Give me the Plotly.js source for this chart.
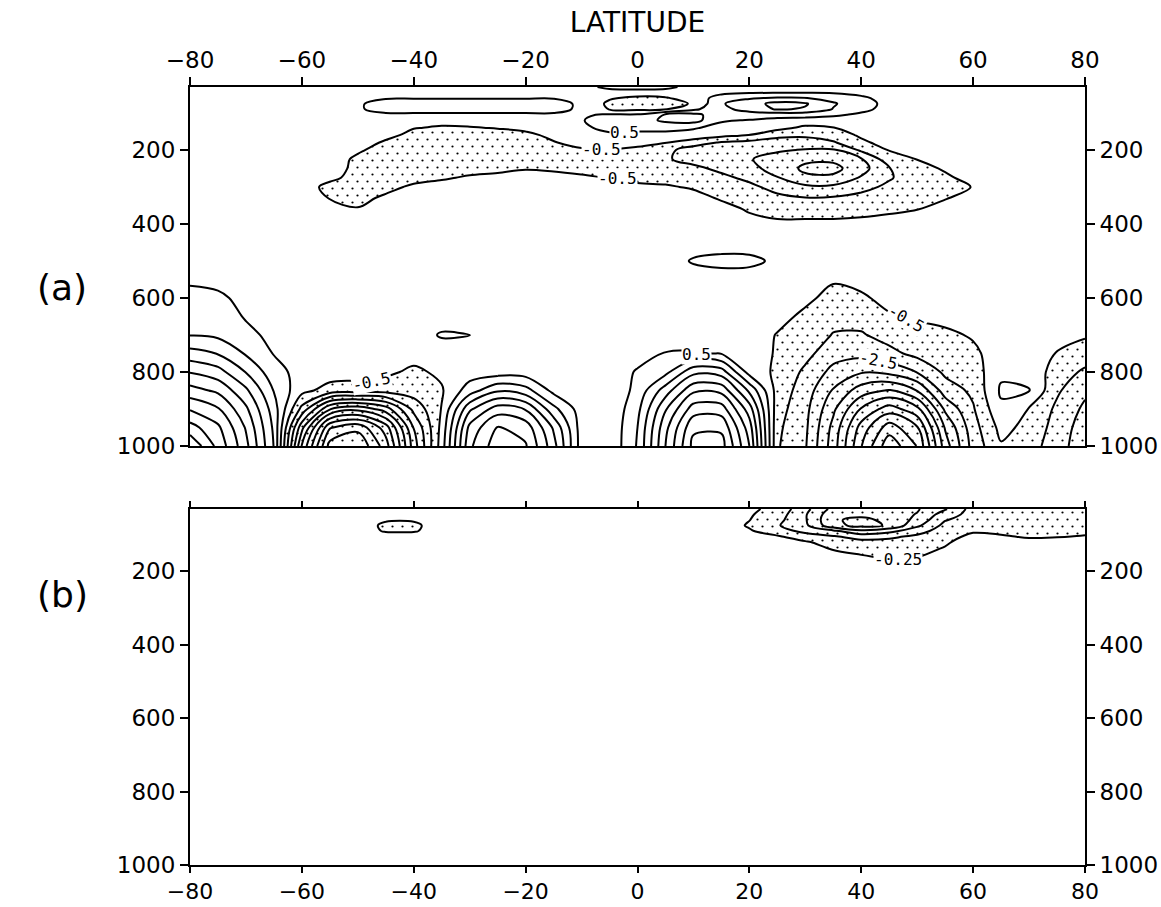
<!DOCTYPE html>
<html>
<head>
<meta charset="utf-8">
<script src="https://cdn.plot.ly/plotly-3.0.1.min.js"></script>
<style>html,body{margin:0;padding:0;background:#fff}#chart{width:1161px;height:907px}</style>
</head>
<body>
<div id="chart"></div>
<script>
// Latitude columns (deg) shared by both panels
const latitude = [-80,-75,-70,-65,-60,-55,-50,-45,-40,-35,-30,-25,-20,-15,-10,-5,0,5,10,15,20,25,30,35,40,45,50,55,60,65,70,75,80];

// Panel (a): pressure levels (mb) and field values (one row per level)
const pressureA = [30,45,60,75,90,105,120,140,160,180,200,225,250,275,300,330,360,400,450,500,550,600,650,700,750,800,850,900,950,1000];
const fieldA = [
[0,0,0,0,0,0,0,0,0,0,0,0,0,0,0.1,0.8,0.9,0.8,0.1,0,0,0,0,0,0,0,0,0,0,0,0,0,0],
[0,0,0,0,0,0,0.1,0.1,0.1,0.1,0.1,0.1,0.1,0.1,0,0,0,0,0,0.3,0.4,0.45,0.45,0.4,0.2,0,0,0,0,0,0,0,0],
[0,0,0,0,0,0,0.2,0.45,0.45,0.45,0.45,0.45,0.45,0.45,0.1,-0.4,-0.7,-0.6,0,0.9,1.4,1.6,1.55,1.2,0.7,0.1,0,0,0,0,0,0,0],
[0,0,0,0,0,0,0.4,0.8,0.9,0.9,0.95,0.9,0.9,0.9,0.3,-0.7,-1.0,-0.9,-0.4,1.4,2.1,2.8,2.6,1.6,0.9,0.2,0,0,0,0,0,0,0],
[0,0,0,0,0,0,0.4,0.8,0.85,0.85,0.85,0.85,0.85,0.85,0.3,-0.55,-0.7,-0.6,0.3,1.2,1.9,2.6,2.4,1.45,0.8,0.1,0,0,0,0,0,0,0],
[0,0,0,0,0,0,0.1,0.35,0.35,0.35,0.35,0.35,0.35,0.35,0.4,0.6,0.6,1.6,1.8,0.9,1.0,0.9,0.9,0.7,0.3,0,0,0,0,0,0,0,0],
[0,0,0,0,0,0,0,0,-0.05,-0.2,-0.2,-0.1,0,0.1,0.45,0.9,1.0,1.7,1.9,0.6,0.45,0.2,0.1,0,0,0,0,0,0,0,0,0,0],
[0,0,0,0,0,0,0,0,-0.45,-0.6,-0.55,-0.45,-0.3,-0.1,0.3,0.8,0.8,0.8,0.6,0.2,0.1,-0.2,-0.7,-0.52,-0.1,0,0,0,0,0,0,0,0],
[0,0,0,0,0,0,0,-0.2,-0.8,-0.9,-0.9,-0.85,-0.7,-0.3,0.1,0.3,0.2,0.2,0.1,-0.2,-0.52,-1.2,-1.3,-1.0,-0.35,0,0,0,0,0,0,0,0],
[0,0,0,0,0,0,0,-0.65,-0.95,-1.0,-1.0,-1.0,-0.9,-0.55,-0.2,0,-0.3,-0.45,-1.0,-1.6,-1.8,-2.0,-2.0,-1.6,-0.7,-0.1,0,0,0,0,0,0,0],
[0,0,0,0,0,0,-0.35,-0.9,-1.0,-1.0,-1.0,-1.0,-0.95,-0.8,-0.6,-0.55,-0.65,-1.2,-2.0,-2.2,-2.35,-2.4,-2.55,-2.6,-1.3,-0.45,-0.1,0,0,0,0,0,0],
[0,0,0,0,0,0,-0.7,-0.95,-1.0,-1.0,-0.95,-0.9,-0.85,-0.8,-0.8,-0.8,-0.85,-1.4,-1.8,-2.3,-2.45,-2.8,-3.3,-3.3,-2.6,-0.9,-0.48,-0.1,0,0,0,0,0],
[0,0,0,0,0,0,-0.8,-0.95,-0.95,-0.9,-0.8,-0.7,-0.55,-0.6,-0.7,-0.75,-0.85,-1.2,-1.3,-1.7,-2.2,-2.9,-3.7,-3.8,-2.9,-1.55,-0.8,-0.4,0,0,0,0,0],
[0,0,0,0,0,-0.3,-0.8,-0.9,-0.8,-0.6,-0.4,-0.3,-0.2,-0.3,-0.4,-0.52,-0.7,-0.8,-0.9,-1.3,-1.7,-2.45,-3.3,-3.3,-2.4,-1.6,-0.95,-0.65,-0.2,0,0,0,0],
[0,0,0,0,-0.1,-0.75,-0.8,-0.75,-0.35,-0.2,-0.1,0,0,0,-0.1,-0.1,-0.35,-0.4,-0.6,-1.0,-1.3,-1.8,-2.3,-2.3,-1.8,-1.3,-0.9,-0.7,-0.48,0,0,0,0],
[0,0,0,0,0,-0.55,-0.75,-0.35,0,0,0,0,0,0,0,0,0,0,-0.2,-0.6,-0.9,-1.3,-1.45,-1.4,-1.2,-0.95,-0.75,-0.55,-0.2,0,0,0,0],
[0,0,0,0,0,0,-0.45,0,0,0,0,0,0,0,0,0,0,0,0,-0.2,-0.6,-0.9,-0.9,-0.9,-0.75,-0.65,-0.52,-0.2,0,0,0,0,0],
[0,0,0,0,0,0,0,0,0,0,0,0,0,0,0,0,0,0,0,0,-0.2,-0.3,-0.3,-0.3,-0.3,-0.2,-0.1,0,0,0,0,0,0],
[0,0,0,0,0,0,0,0,0,0,0,0,0,0,0,0,0,0,0,0,0,0,0,0,0,0,0,0,0,0,0,0,0],
[0,0,0,0,0,0,0,0,0,0,0,0,0,0,0,0,0,0,0.6,0.8,0.75,0.3,0,0,0,0,0,0,0,0,0,0,0],
[0.3,0.2,0,0,0,0,0,0,0,0,0,0,0,0,0,0,0,0,0,0,0,0,0,-0.4,-0.2,0,0,0,0,0,0,0,0],
[0.9,0.7,0.2,0,0,0,0,0,0,0,0,0,0,0,0,0,0,0,0,0,0,0,-0.3,-0.8,-0.65,-0.2,-0.1,0,0,0,0,0,0],
[1.2,1.1,0.4,0,0,0,0,0,0,0,0,0,0,0,0,0,0,0,0,0,0,-0.2,-0.7,-1.2,-1.1,-0.6,-0.4,-0.2,0,0,0,0,0],
[1.45,1.3,0.8,0.2,0,0,0,0,0,0.6,0.52,0,0,0,0,0,0,0,0,0,0,-0.55,-0.95,-1.55,-1.6,-1.1,-0.8,-0.7,-0.4,0,0,-0.1,-0.4],
[2.9,2.45,1.4,0.45,0,0,0,0,-0.1,0,0,0,0,0,0,0,0.1,0.55,0.6,0.45,0,-0.6,-1.2,-2.1,-2.2,-1.8,-1.2,-1.0,-0.7,0,0,-0.55,-0.9],
[4.45,3.9,2.45,0.9,0.1,0,-0.1,-0.3,-0.7,-0.3,0,0,0,0,0,-0.1,0.6,1.2,3.2,3.0,0.1,-0.7,-1.7,-2.8,-3.4,-3.2,-2.45,-1.3,-1.0,0.3,0.1,-0.9,-1.7],
[5.9,5.3,3.7,1.45,-0.2,-0.9,-1.0,-1.1,-1.0,-0.6,1.0,2.37,1.9,0.2,0,-0.3,0.8,3.0,5.3,5.2,2.3,-0.9,-2.0,-3.6,-5.0,-5.6,-4.45,-2.0,-1.3,0.65,0.55,-1.35,-2.3],
[7.4,6.6,4.7,2.0,-1.8,-5.45,-6.2,-5.0,-2.2,-0.45,3.3,5.0,4.45,1.8,0,-0.3,1.2,4.4,7.0,7.0,4.0,-1.1,-2.2,-4.3,-6.6,-8.0,-6.8,-3.3,-1.6,0.3,-0.55,-1.7,-2.7],
[8.9,7.7,5.4,2.3,-4.2,-9.4,-10.2,-8.0,-3.45,-0.2,4.8,6.57,6.1,3.35,0,-0.3,1.5,5.2,8.3,8.3,5.0,-1.3,-2.3,-4.8,-7.9,-10.0,-8.6,-4.4,-1.9,-0.2,-0.8,-1.9,-3.0],
[10.4,8.2,5.8,2.45,-5.6,-10.9,-11.4,-9.0,-4.0,0,5.3,7.1,6.6,3.9,0,-0.3,1.6,5.5,8.8,8.9,5.5,-1.4,-2.4,-5.0,-8.45,-11.2,-9.45,-5.0,-2.1,-0.6,-1.1,-2.0,-3.2]
];

// Panel (b): pressure levels (mb) and field values
const pressureB = [30,45,60,75,90,105,120,140,160,180,200,300,500,700,1000];
const fieldB = [
[0,0,0,0,0,0,0,0,0,0,0,0,0,0,0,0,0,0,0,0,-0.15,-0.4,-1.1,-1.9,-2.0,-1.9,-1.8,-1.3,-0.55,-0.5,-0.45,-0.45,-0.45],
[0,0,0,0,0,0,0,0,0,0,0,0,0,0,0,0,0,0,0,0,-0.2,-0.5,-1.2,-2.1,-2.15,-2.0,-1.72,-1.0,-0.55,-0.5,-0.45,-0.45,-0.45],
[0,0,0,0,0,0,0,-0.2,-0.2,0,0,0,0,0,0,0,0,0,0,0,-0.24,-0.6,-1.2,-2.2,-2.35,-2.15,-1.6,-0.78,-0.5,-0.45,-0.45,-0.45,-0.45],
[0,0,0,0,0,0,0,-0.35,-0.35,0,0,0,0,0,0,0,0,0,0,0,-0.3,-0.7,-1.15,-2.1,-2.4,-2.2,-1.35,-0.6,-0.45,-0.45,-0.45,-0.45,-0.45],
[0,0,0,0,0,0,0,-0.3,-0.3,0,0,0,0,0,0,0,0,0,0,0,-0.2,-0.5,-0.9,-1.15,-1.65,-1.4,-0.95,-0.5,-0.3,-0.35,-0.4,-0.4,-0.35],
[0,0,0,0,0,0,0,0,0,0,0,0,0,0,0,0,0,0,0,0,-0.05,-0.2,-0.5,-0.7,-0.95,-0.85,-0.65,-0.4,-0.15,-0.2,-0.3,-0.28,-0.22],
[0,0,0,0,0,0,0,0,0,0,0,0,0,0,0,0,0,0,0,0,0,0,-0.2,-0.45,-0.6,-0.6,-0.5,-0.32,0,0,-0.1,-0.05,0],
[0,0,0,0,0,0,0,0,0,0,0,0,0,0,0,0,0,0,0,0,0,0,0,-0.27,-0.4,-0.45,-0.4,-0.2,0,0,0,0,0],
[0,0,0,0,0,0,0,0,0,0,0,0,0,0,0,0,0,0,0,0,0,0,0,-0.05,-0.2,-0.32,-0.28,0,0,0,0,0,0],
[0,0,0,0,0,0,0,0,0,0,0,0,0,0,0,0,0,0,0,0,0,0,0,0,0,-0.1,-0.05,0,0,0,0,0,0],
[0,0,0,0,0,0,0,0,0,0,0,0,0,0,0,0,0,0,0,0,0,0,0,0,0,0,0,0,0,0,0,0,0],
[0,0,0,0,0,0,0,0,0,0,0,0,0,0,0,0,0,0,0,0,0,0,0,0,0,0,0,0,0,0,0,0,0],
[0,0,0,0,0,0,0,0,0,0,0,0,0,0,0,0,0,0,0,0,0,0,0,0,0,0,0,0,0,0,0,0,0],
[0,0,0,0,0,0,0,0,0,0,0,0,0,0,0,0,0,0,0,0,0,0,0,0,0,0,0,0,0,0,0,0,0],
[0,0,0,0,0,0,0,0,0,0,0,0,0,0,0,0,0,0,0,0,0,0,0,0,0,0,0,0,0,0,0,0,0]
];

const latTicks = [-80,-60,-40,-20,0,20,40,60,80];
const pressureTicks = [200,400,600,800,1000];
const panelLabels = ['(a)', '(b)'];

// Constraint contours shade the region that fails the constraint,
// so '>' shades the negative (stippled) areas below the threshold.
const STIP = 'rgb(1,2,3)';
const traces = [
  {type:'contour', x:latitude, y:pressureA, z:fieldA, xaxis:'x', yaxis:'y',
   contours:{type:'constraint', operation:'>', value:-0.5},
   fillcolor:STIP, line:{color:'rgba(0,0,0,0)', width:0, smoothing:1},
   showscale:false, hoverinfo:'skip'},
  {type:'contour', x:latitude, y:pressureA, z:fieldA, xaxis:'x', yaxis:'y2',
   autocontour:false, contours:{coloring:'none', start:-11.5, end:10.5, size:1},
   line:{color:'#000', width:2, smoothing:1}, showscale:false, hoverinfo:'skip'},
  {type:'contour', x:latitude, y:pressureB, z:fieldB, xaxis:'x2', yaxis:'y3',
   contours:{type:'constraint', operation:'>', value:-0.25},
   fillcolor:STIP, line:{color:'rgba(0,0,0,0)', width:0, smoothing:1},
   showscale:false, hoverinfo:'skip'},
  {type:'contour', x:latitude, y:pressureB, z:fieldB, xaxis:'x2', yaxis:'y4',
   autocontour:false, contours:{coloring:'none', start:-2.25, end:-0.25, size:0.5},
   line:{color:'#000', width:2, smoothing:1}, showscale:false, hoverinfo:'skip'}
];

const xDom = [190/1161, 1085/1161];
const aDom = [1-446/907, 1-87/907];
const bDom = [1-865/907, 1-509/907];
const tickFont = {family:'DejaVu Sans', size:23, color:'#000'};
const common = {ticks:'outside', ticklen:8, tickwidth:2, tickcolor:'#000', showline:true,
  linewidth:2, linecolor:'#000', showgrid:false, zeroline:false, tickfont:tickFont};

const layout = {
  width:1161, height:907, margin:{l:0,r:0,t:0,b:0},
  paper_bgcolor:'#fff', plot_bgcolor:'#fff', showlegend:false, hovermode:false,
  font:{family:'DejaVu Sans', color:'#000'},
  xaxis:Object.assign({}, common, {domain:xDom, range:[-80,80], anchor:'y', side:'top',
    tickvals:latTicks, mirror:true,
    title:{text:'LATITUDE', font:{family:'DejaVu Sans', size:28, color:'#000'}, standoff:6}}),
  yaxis:Object.assign({}, common, {domain:aDom, range:[1000,30], anchor:'x', tickvals:pressureTicks, mirror:true}),
  yaxis2:Object.assign({}, common, {overlaying:'y', side:'right', range:[1000,30], anchor:'x', tickvals:pressureTicks}),
  xaxis2:Object.assign({}, common, {domain:xDom, range:[-80,80], anchor:'y3', side:'bottom',
    tickvals:latTicks, mirror:'ticks', ticklen:6, ticklabelstandoff:0,
    tickfont:{family:'DejaVu Sans', size:22, color:'#000'}}),
  yaxis3:Object.assign({}, common, {domain:bDom, range:[1000,30], anchor:'x2', tickvals:pressureTicks, mirror:true}),
  yaxis4:Object.assign({}, common, {overlaying:'y3', side:'right', range:[1000,30], anchor:'x2', tickvals:pressureTicks}),
  annotations:[]
};

const lblFont = {family:'DejaVu Sans Mono', size:16, color:'#000'};
function clabel(text, x, y, xr, yr, ang) {
  return {text:text, x:x, y:y, xref:xr, yref:yr, showarrow:false, font:lblFont,
    bgcolor:'#fff', borderpad:0, textangle:ang||0};
}
layout.annotations.push(
  clabel('0.5', -2.4, 152, 'x', 'y', 0),
  clabel('-0.5', -6.5, 200, 'x', 'y', 0),
  clabel('-0.5', -3.6, 276, 'x', 'y', 0),
  clabel('-0.5', -47.5, 825, 'x', 'y', -12),
  clabel('0.5', 10.5, 752, 'x', 'y', 0),
  clabel('-0.5', 48, 655, 'x', 'y', 30),
  clabel('-2.5', 43, 770, 'x', 'y', 10),
  clabel('-0.25', 46.6, 168, 'x2', 'y3', 0),
  {text:panelLabels[0], x:35/1161, y:1-265/907, xref:'paper', yref:'paper', showarrow:false,
   font:{family:'DejaVu Sans', size:36, color:'#000'}},
  {text:panelLabels[1], x:35/1161, y:1-617/907, xref:'paper', yref:'paper', showarrow:false,
   font:{family:'DejaVu Sans', size:36, color:'#000'}}
);

Plotly.newPlot('chart', traces, layout, {staticPlot:true, displayModeBar:false}).then(function(gd){
  const ns = 'http://www.w3.org/2000/svg';
  const svg = gd.querySelector('svg.main-svg');
  let defs = svg.querySelector('defs');
  if (!defs) { defs = document.createElementNS(ns, 'defs'); svg.insertBefore(defs, svg.firstChild); }
  const pat = document.createElementNS(ns, 'pattern');
  pat.setAttribute('id', 'stipple');
  pat.setAttribute('patternUnits', 'userSpaceOnUse');
  pat.setAttribute('width', '10');
  pat.setAttribute('height', '14');
  [[2.5,3.5],[7.5,10.5]].forEach(function(p){
    const c = document.createElementNS(ns, 'circle');
    c.setAttribute('cx', p[0]); c.setAttribute('cy', p[1]); c.setAttribute('r', '1.1');
    c.setAttribute('fill', '#000');
    pat.appendChild(c);
  });
  defs.appendChild(pat);
  gd.querySelectorAll('path').forEach(function(p){
    const f = (p.style.fill || '').replace(/\s/g,'');
    if (/^rgba?\(1,2,3/.test(f)) { p.style.fill = 'url(#stipple)'; p.style.fillOpacity = 1; }
  });
});
</script>
</body>
</html>
